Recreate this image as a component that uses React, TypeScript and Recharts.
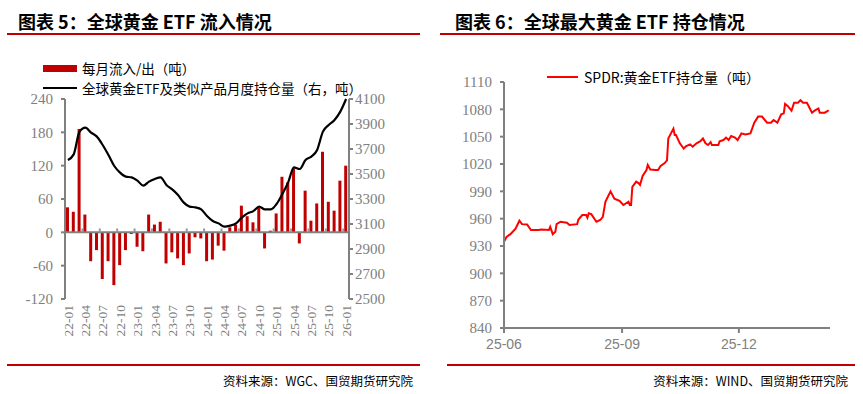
import React from "react";
import { ComposedChart, LineChart, Bar, Line, XAxis, YAxis, ReferenceLine } from "recharts";

// 图表5：全球黄金ETF流入（月度）
const months = [
  "22-01", "22-02", "22-03", "22-04", "22-05", "22-06", "22-07", "22-08", "22-09", "22-10", "22-11", "22-12",
  "23-01", "23-02", "23-03", "23-04", "23-05", "23-06", "23-07", "23-08", "23-09", "23-10", "23-11", "23-12",
  "24-01", "24-02", "24-03", "24-04", "24-05", "24-06", "24-07", "24-08", "24-09", "24-10", "24-11", "24-12",
  "25-01", "25-02", "25-03", "25-04", "25-05", "25-06", "25-07", "25-08", "25-09", "25-10", "25-11", "25-12",
  "26-01",
];
const flows = [
  45, 37, 186, 32, -52, -32, -84, -52, -95, -59, -32, -3,
  -26, -34, 32, 14, 19, -56, -36, -47, -59, -38, -9, -11,
  -52, -49, -24, -33, 9, 14, 48, 29, 18, 44, -29, 3,
  34, 100, 90, 115, -20, 75, 21, 52, 145, 55, 39, 93,
  120,
];
const holdings = [
  3612, 3657, 3838, 3871, 3831, 3799, 3732, 3652, 3564, 3511, 3479, 3473,
  3447, 3407, 3439, 3460, 3473, 3412, 3377, 3332, 3271, 3239, 3233, 3217,
  3164, 3124, 3105, 3079, 3087, 3105, 3151, 3185, 3203, 3239, 3217, 3217,
  3260, 3340, 3433, 3553, 3540, 3612, 3639, 3692, 3839, 3892, 3932, 3999,
  4100,
];
const flowTicks = [-120, -60, 0, 60, 120, 180, 240];
const holdTicks = [2500, 2700, 2900, 3100, 3300, 3500, 3700, 3900, 4100];

// 图表6：SPDR持仓（日度）
const spdrDates = [
  "2025-06-01", "2025-06-03", "2025-06-06", "2025-06-10", "2025-06-13", "2025-06-15", "2025-06-19", "2025-06-22",
  "2025-06-28", "2025-06-30", "2025-07-06", "2025-07-07", "2025-07-09", "2025-07-11", "2025-07-12", "2025-07-15",
  "2025-07-20", "2025-07-22", "2025-07-28", "2025-07-29", "2025-08-01", "2025-08-04", "2025-08-05", "2025-08-06",
  "2025-08-08", "2025-08-12", "2025-08-15", "2025-08-17", "2025-08-19", "2025-08-23", "2025-08-26", "2025-08-30",
  "2025-09-02", "2025-09-06", "2025-09-07", "2025-09-08", "2025-09-09", "2025-09-12", "2025-09-14", "2025-09-15",
  "2025-09-17", "2025-09-20", "2025-09-21", "2025-09-23", "2025-09-27", "2025-09-29", "2025-10-01", "2025-10-04",
  "2025-10-06", "2025-10-07", "2025-10-11", "2025-10-12", "2025-10-13", "2025-10-16", "2025-10-19", "2025-10-21",
  "2025-10-24", "2025-10-26", "2025-10-29", "2025-11-01", "2025-11-03", "2025-11-05", "2025-11-07", "2025-11-09",
  "2025-11-10", "2025-11-15", "2025-11-16", "2025-11-19", "2025-11-21", "2025-11-23", "2025-11-25", "2025-11-28",
  "2025-11-30", "2025-12-03", "2025-12-06", "2025-12-10", "2025-12-13", "2025-12-16", "2025-12-19", "2025-12-23",
  "2025-12-26", "2025-12-28", "2025-12-31", "2026-01-03", "2026-01-05", "2026-01-06", "2026-01-08", "2026-01-11",
  "2026-01-13", "2026-01-16", "2026-01-18", "2026-01-20", "2026-01-23", "2026-01-27", "2026-01-29", "2026-02-01",
  "2026-02-02", "2026-02-06", "2026-02-09",
];
const spdrValues = [
  934.5, 940, 943, 949, 957.7, 954, 953.7, 947.5,
  947.5, 948, 947.5, 951, 943, 945.6, 954, 956.6,
  955.5, 953, 954, 959, 964, 964, 961, 966,
  965, 956.6, 958.5, 962, 978.6, 990, 982, 979.7,
  975, 978.6, 975, 975, 995, 1000.6, 998.8, 997,
  1006.8, 1013.4, 1019, 1014, 1013.4, 1013.4, 1017.8, 1020.7,
  1024, 1048, 1058.8, 1051.8, 1051.8, 1042.7, 1037, 1039.7,
  1041.6, 1039, 1042.7, 1045, 1048, 1042.7, 1040.8, 1044,
  1040.8, 1040.8, 1045, 1046.3, 1049, 1046.3, 1050.7, 1049,
  1046.3, 1053.6, 1052.5, 1053.6, 1065.4, 1072, 1072, 1065.4,
  1065.4, 1068.3, 1065.4, 1074.5, 1075.6, 1085.9, 1083.7, 1078.5,
  1087.3, 1087.3, 1090, 1087.3, 1087.3, 1076.3, 1078.5, 1081,
  1076.3, 1076.3, 1079,
];
const spdrTickDates = ["2025-06-01", "2025-09-01", "2025-12-01"];
const spdrTickLabels = ["25-06", "25-09", "25-12"];
const spdrYTicks = [840, 870, 900, 930, 960, 990, 1020, 1050, 1080, 1110];

const toDay = (s: string) => {
  const [y, m, d] = s.split("-").map(Number);
  return Date.UTC(y, m - 1, d) / 86400000;
};

const flowData = months.map((m, i) => ({ month: m, flow: flows[i], hold: holdings[i] }));
const spdrData = spdrDates.map((d, i) => ({ day: toDay(d), value: spdrValues[i] }));
const spdrTickDays = spdrTickDates.map(toDay);

const RED = "#C00000";
const GREY = "#808080";
const serif = "'Liberation Serif', 'Times New Roman', serif";
const cjk = "'Noto Sans CJK SC', sans-serif";
const axisText = { fill: GREY, fontSize: 15, fontFamily: serif };

const MonthTick = ({ x, y, payload }: any) => (
  <text
    x={x}
    y={y}
    dy="0.35em"
    transform={`rotate(-90, ${x}, ${y})`}
    textAnchor="end"
    fill={GREY}
    fontSize={13.5}
    fontFamily={serif}
  >
    {payload.value}
  </text>
);

const Title = ({ left, text }: { left: number; text: string }) => (
  <div
    style={{
      position: "absolute", left, top: 9, fontSize: 18, fontWeight: 700,
      fontFamily: cjk, color: "#000", whiteSpace: "nowrap", lineHeight: "24px",
    }}
  >
    {text}
  </div>
);

const Rule = ({ left, width, top }: { left: number; width: number; top: number }) => (
  <div style={{ position: "absolute", left, top, width, height: 2, background: RED }} />
);

const Source = ({ right, text }: { right: number; text: string }) => (
  <div
    style={{
      position: "absolute", right, top: 371, fontSize: 12.5, fontFamily: cjk,
      color: "#000", whiteSpace: "nowrap", lineHeight: "20px",
    }}
  >
    {text}
  </div>
);

const App = () => {
  return (
    <div style={{ position: "absolute", left: 0, top: 0, width: 863, height: 394, background: "#fff", overflow: "hidden" }}>
      <Title left={18} text="图表 5：全球黄金 ETF 流入情况" />
      <Title left={455} text="图表 6：全球最大黄金 ETF 持仓情况" />
      <Rule left={7} width={413} top={33} />
      <Rule left={440} width={415} top={33} />

      {/* left legend */}
      <div style={{ position: "absolute", left: 43, top: 60, fontFamily: cjk, fontSize: 13.5, lineHeight: "16px", whiteSpace: "nowrap" }}>
        <div style={{ display: "flex", alignItems: "center", height: 16 }}>
          <span style={{ display: "inline-block", width: 34, height: 7, background: RED, marginRight: 5 }} />
          每月流入/出（吨）
        </div>
        <div style={{ display: "flex", alignItems: "center", height: 16, marginTop: 4 }}>
          <span style={{ display: "inline-block", width: 34, height: 2, background: "#000", marginRight: 5 }} />
          全球黄金ETF及类似产品月度持仓量（右，吨）
        </div>
      </div>

      {/* right legend */}
      <div style={{ position: "absolute", left: 547, top: 68, fontFamily: cjk, fontSize: 14, lineHeight: "18px", whiteSpace: "nowrap", display: "flex", alignItems: "center" }}>
        <span style={{ display: "inline-block", width: 31, height: 2, background: "#FF0000", marginRight: 6 }} />
        SPDR:黄金ETF持仓量（吨）
      </div>

      <div style={{ position: "absolute", left: 0, top: 0 }}>
        <ComposedChart width={430} height={360} data={flowData} margin={{ top: 99, right: 21, bottom: 11, left: 15 }}>
          <XAxis
            dataKey="month"
            interval={2}
            axisLine={false}
            tickLine={false}
            height={50}
            tick={<MonthTick />}
            tickMargin={0}
          />
          <YAxis
            yAxisId="left"
            width={50}
            domain={[-120, 240]}
            ticks={flowTicks}
            interval={0}
            tick={axisText}
            axisLine={{ stroke: GREY, strokeWidth: 2 }}
            tickLine={{ stroke: GREY, strokeWidth: 2 }}
            tickSize={4}
            tickMargin={8}
          />
          <YAxis
            yAxisId="right"
            orientation="right"
            width={60}
            domain={[2500, 4100]}
            ticks={holdTicks}
            interval={0}
            tick={axisText}
            axisLine={{ stroke: GREY, strokeWidth: 2 }}
            tickLine={{ stroke: GREY, strokeWidth: 2 }}
            tickSize={4}
            tickMargin={2}
          />
          <Bar yAxisId="left" dataKey="flow" fill={RED} barSize={3} isAnimationActive={false} />
          <ReferenceLine yAxisId="left" y={0} stroke={GREY} strokeWidth={2} />
          {months.map((m, i) =>
            i > 0 && i % 3 === 0 ? (
              <ReferenceLine
                key={m}
                yAxisId="left"
                position="start"
                segment={[{ x: m, y: 0 }, { x: m, y: 7 }]}
                stroke="#999"
                strokeWidth={2}
              />
            ) : null
          )}
          <Line
            yAxisId="right"
            dataKey="hold"
            type="monotone"
            stroke="#000"
            strokeWidth={2.2}
            dot={false}
            isAnimationActive={false}
          />
        </ComposedChart>
      </div>

      <div style={{ position: "absolute", left: 430, top: 0 }}>
        <LineChart width={430} height={360} data={spdrData} margin={{ top: 82, right: 30, bottom: 2, left: 14 }}>
          <XAxis
            dataKey="day"
            type="number"
            domain={[toDay("2025-06-01"), toDay("2026-02-10")]}
            ticks={spdrTickDays}
            tickFormatter={(v: number) => spdrTickLabels[spdrTickDays.indexOf(v)]}
            tick={{ fill: GREY, fontSize: 14, fontFamily: "'Liberation Sans', sans-serif" }}
            axisLine={{ stroke: GREY, strokeWidth: 2 }}
            tickLine={{ stroke: GREY, strokeWidth: 2 }}
            tickSize={5}
            tickMargin={6}
            height={30}
          />
          <YAxis
            width={60}
            domain={[840, 1110]}
            ticks={spdrYTicks}
            interval={0}
            tick={axisText}
            axisLine={{ stroke: GREY, strokeWidth: 2 }}
            tickLine={{ stroke: GREY, strokeWidth: 2 }}
            tickSize={4}
            tickMargin={8}
          />
          <Line
            dataKey="value"
            type="linear"
            stroke="#FF0000"
            strokeWidth={2}
            dot={false}
            isAnimationActive={false}
          />
        </LineChart>
      </div>

      <Rule left={7} width={413} top={364} />
      <Rule left={447} width={408} top={364} />
      <Source right={863 - 413} text="资料来源：WGC、国贸期货研究院" />
      <Source right={863 - 848} text="资料来源：WIND、国贸期货研究院" />
    </div>
  );
};

export default App;
